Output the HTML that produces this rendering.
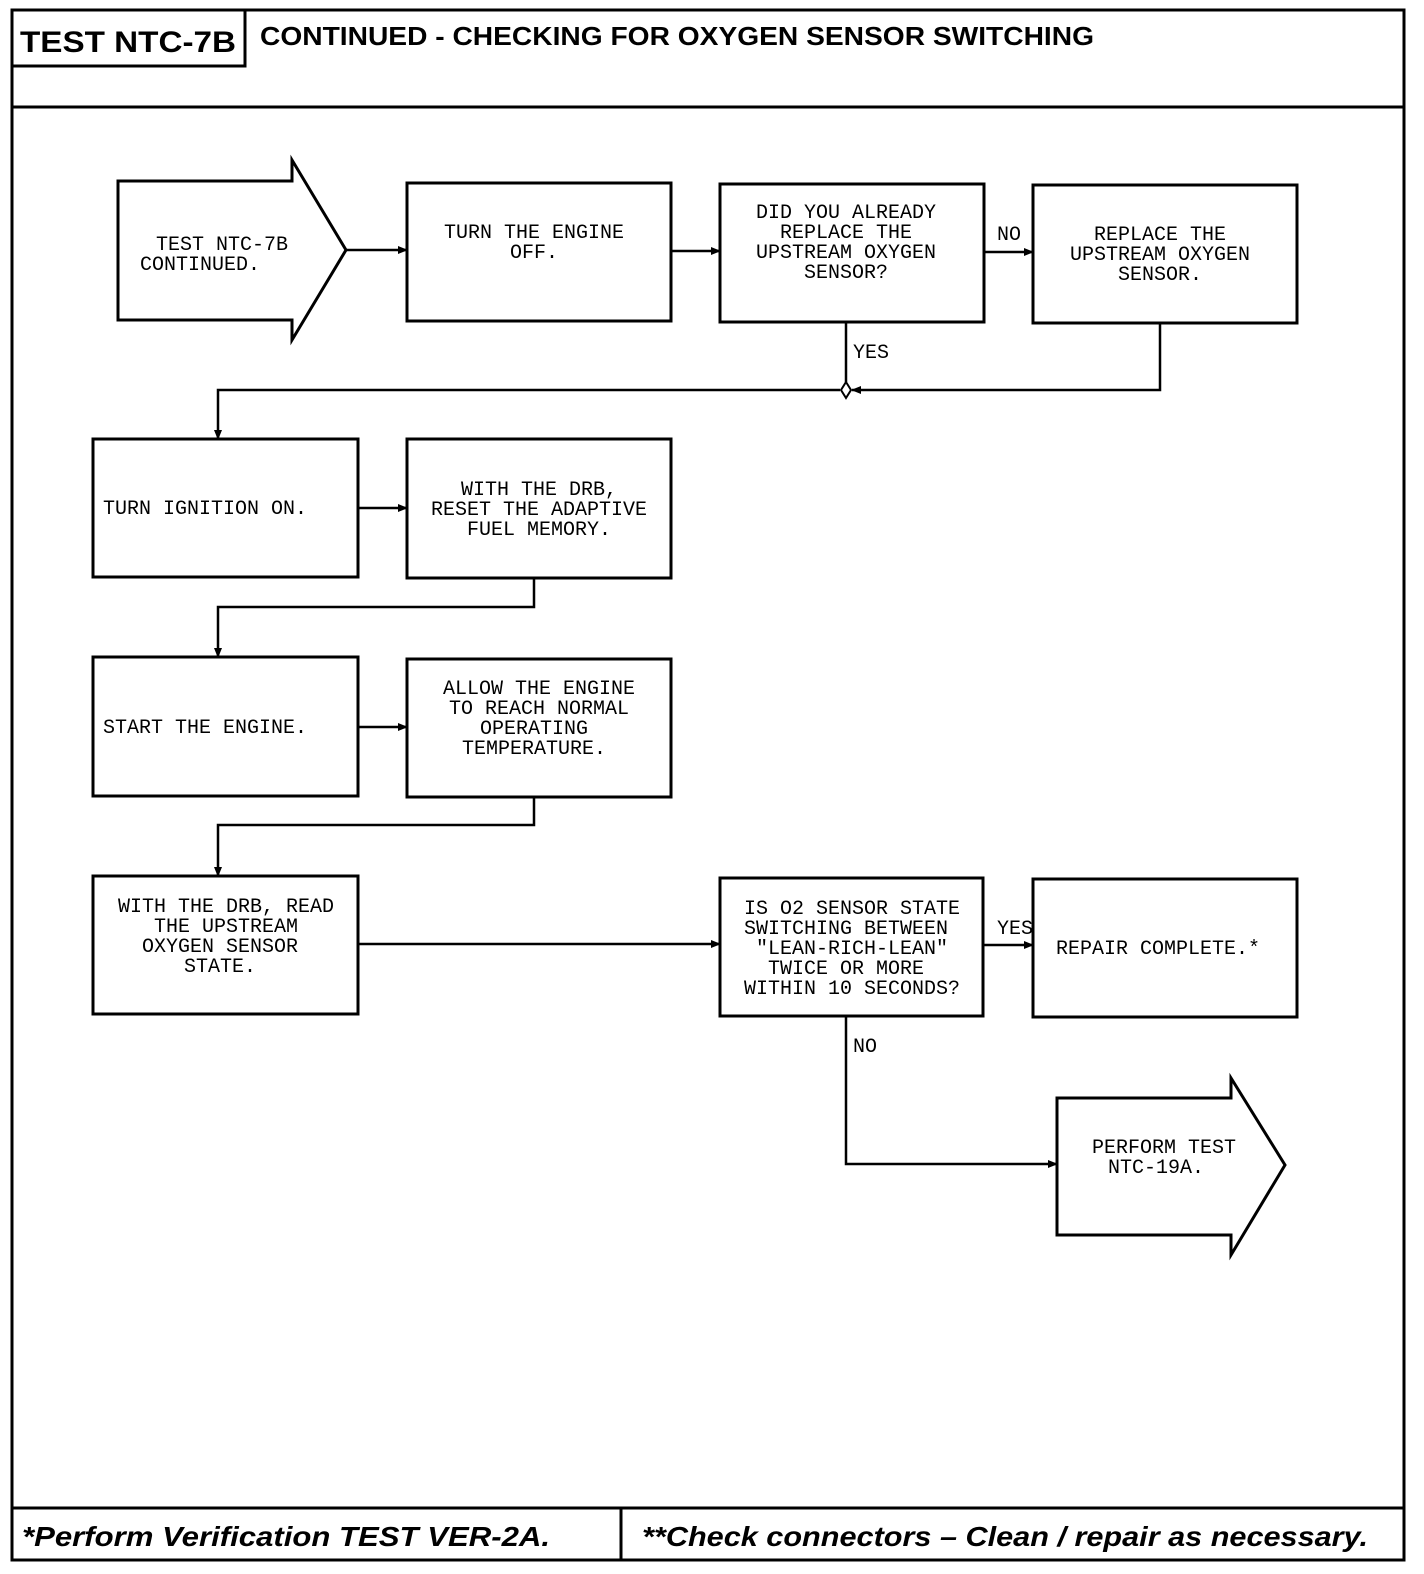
<!DOCTYPE html>
<html><head><meta charset="utf-8"><style>
html,body{margin:0;padding:0;background:#fff}
svg{display:block}
.m{font-family:"Liberation Mono",monospace;font-size:20px;fill:#000}
.h{font-family:"Liberation Sans",sans-serif;font-weight:bold;fill:#000}
</style></head><body>
<svg width="1424" height="1574" viewBox="0 0 1424 1574" xmlns="http://www.w3.org/2000/svg">
<defs><marker id="a" markerWidth="10" markerHeight="8" refX="9" refY="4" orient="auto" markerUnits="userSpaceOnUse"><path d="M0,0 L10,4 L0,8 z" fill="#000"/></marker></defs>
<g fill="none" stroke="#000" stroke-width="3">
<rect x="12" y="10" width="1392" height="1550"/>
<rect x="12" y="10" width="233" height="56"/>
<line x1="12" y1="107" x2="1404" y2="107"/>
<line x1="12" y1="1508" x2="1404" y2="1508"/>
<line x1="621" y1="1508" x2="621" y2="1560"/>
<path d="M118,181 H292 V160 L346,250 L292,340 V320 H118 Z"/>
<rect x="407" y="183" width="264" height="138"/>
<rect x="720" y="184" width="264" height="138"/>
<rect x="1033" y="185" width="264" height="138"/>
<rect x="93" y="439" width="265" height="138"/>
<rect x="407" y="439" width="264" height="139"/>
<rect x="93" y="657" width="265" height="139"/>
<rect x="407" y="659" width="264" height="138"/>
<rect x="93" y="876" width="265" height="138"/>
<rect x="720" y="878" width="263" height="138"/>
<rect x="1033" y="879" width="264" height="138"/>
<path d="M1057,1098 H1231 V1078 L1285,1165 L1231,1255 V1235 H1057 Z"/>
</g>
<g fill="none" stroke="#000" stroke-width="2.5">
<line x1="346" y1="250" x2="407" y2="250" marker-end="url(#a)"/>
<line x1="671" y1="251" x2="720" y2="251" marker-end="url(#a)"/>
<line x1="984" y1="252" x2="1033" y2="252" marker-end="url(#a)"/>
<line x1="846" y1="322" x2="846" y2="382"/>
<path d="M1160,323 V390 H852" marker-end="url(#a)"/>
<path d="M840,390 H218 V439" marker-end="url(#a)"/>
<path d="M846,382 L851,390 L846,398 L841,390 Z" fill="#fff" stroke-width="2"/>
<line x1="358" y1="508" x2="407" y2="508" marker-end="url(#a)"/>
<path d="M534,578 V607 H218 V657" marker-end="url(#a)"/>
<line x1="358" y1="727" x2="407" y2="727" marker-end="url(#a)"/>
<path d="M534,797 V825 H218 V876" marker-end="url(#a)"/>
<line x1="358" y1="944" x2="720" y2="944" marker-end="url(#a)"/>
<line x1="983" y1="945" x2="1033" y2="945" marker-end="url(#a)"/>
<path d="M846,1016 V1164 H1057" marker-end="url(#a)"/>
</g>
<text class="h" x="20" y="52" font-size="30" textLength="216" lengthAdjust="spacingAndGlyphs">TEST NTC-7B</text>
<text class="h" x="260" y="45" font-size="26" textLength="834" lengthAdjust="spacingAndGlyphs">CONTINUED -  CHECKING FOR OXYGEN SENSOR SWITCHING</text>
<text class="h" x="22" y="1546" font-size="28" font-style="italic" textLength="528" lengthAdjust="spacingAndGlyphs">*Perform Verification TEST VER-2A.</text>
<text class="h" x="642" y="1546" font-size="28" font-style="italic" textLength="726" lengthAdjust="spacingAndGlyphs">**Check connectors – Clean / repair as necessary.</text>
<g class="m" text-anchor="middle">
<text x="222" y="250">TEST NTC-7B</text><text x="200" y="270">CONTINUED.</text>
<text x="534" y="238">TURN THE ENGINE</text><text x="534" y="258">OFF.</text>
<text x="846" y="218">DID YOU ALREADY</text><text x="846" y="238">REPLACE THE</text><text x="846" y="258">UPSTREAM OXYGEN</text><text x="846" y="278">SENSOR?</text>
<text x="1160" y="240">REPLACE THE</text><text x="1160" y="260">UPSTREAM OXYGEN</text><text x="1160" y="280">SENSOR.</text>
<text x="205" y="514">TURN IGNITION ON.</text>
<text x="539" y="495">WITH THE DRB,</text><text x="539" y="515">RESET THE ADAPTIVE</text><text x="539" y="535">FUEL MEMORY.</text>
<text x="205" y="733">START THE ENGINE.</text>
<text x="539" y="694">ALLOW THE ENGINE</text><text x="539" y="714">TO REACH NORMAL</text><text x="534" y="734">OPERATING</text><text x="534" y="754">TEMPERATURE.</text>
<text x="226" y="912">WITH THE DRB, READ</text><text x="226" y="932">THE UPSTREAM</text><text x="220" y="952">OXYGEN SENSOR</text><text x="220" y="972">STATE.</text>
<text x="852" y="914">IS O2 SENSOR STATE</text><text x="846" y="934">SWITCHING BETWEEN</text><text x="852" y="954">"LEAN-RICH-LEAN"</text><text x="846" y="974">TWICE OR MORE</text><text x="852" y="994">WITHIN 10 SECONDS?</text>
<text x="1158" y="954">REPAIR COMPLETE.*</text>
<text x="1164" y="1153">PERFORM TEST</text><text x="1156" y="1173">NTC-19A.</text>
</g>
<g class="m">
<text x="997" y="240">NO</text>
<text x="853" y="358">YES</text>
<text x="997" y="934">YES</text>
<text x="853" y="1052">NO</text>
</g>
</svg>
</body></html>
